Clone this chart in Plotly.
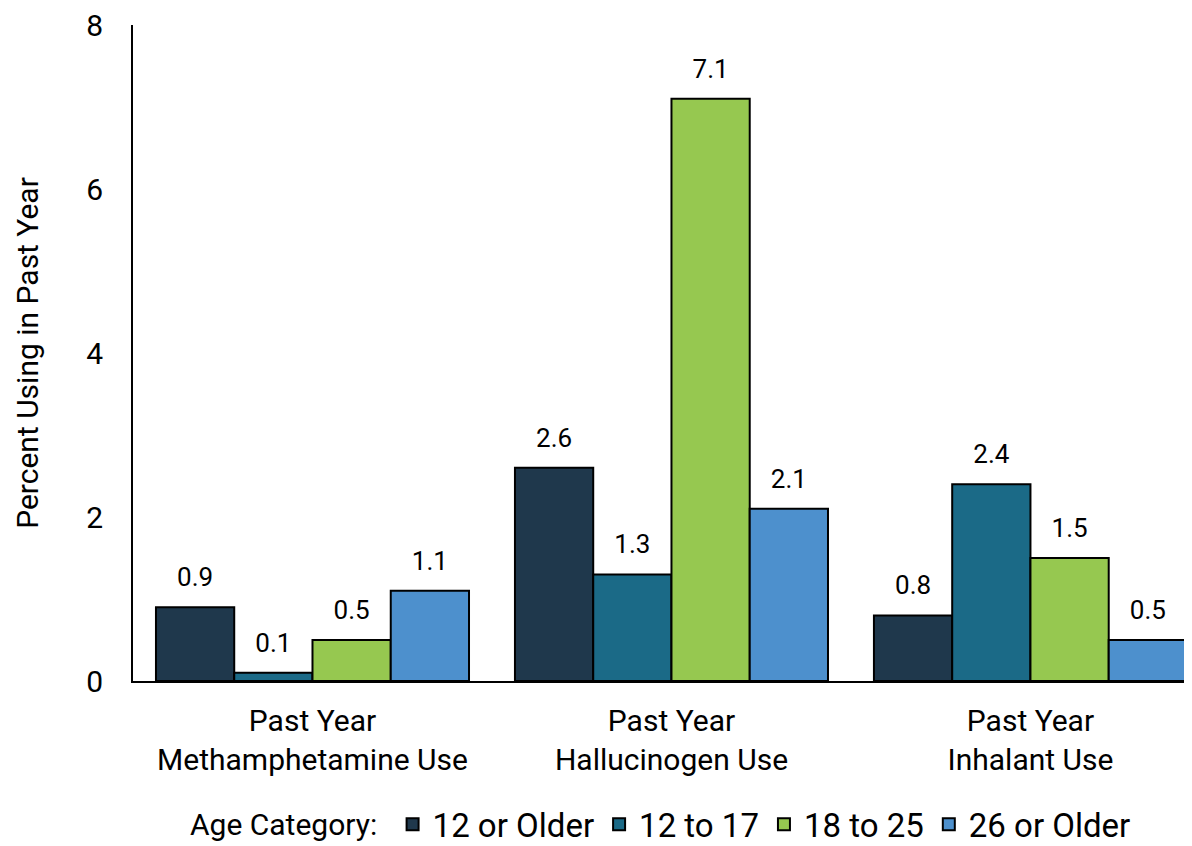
import plotly.graph_objects as go

categories = ["Past Year<br>Methamphetamine Use", "Past Year<br>Hallucinogen Use", "Past Year<br>Inhalant Use"]
series_names = ["12 or Older", "12 to 17", "18 to 25", "26 or Older"]
v_12_older = [0.9, 2.6, 0.8]
v_12_17 = [0.1, 1.3, 2.4]
v_18_25 = [0.5, 7.1, 1.5]
v_26_older = [1.1, 2.1, 0.5]
colors = ["#1f384c", "#1b6a87", "#96c850", "#4d90cd"]
y_ticks = [0, 2, 4, 6, 8]

FONT = "Roboto, sans-serif"
GAP = 0.128

fig = go.Figure()
all_vals = [v_12_older, v_12_17, v_18_25, v_26_older]
for i, (name, vals, col) in enumerate(zip(series_names, all_vals, colors)):
    fig.add_trace(go.Bar(
        x=categories, y=vals, name=name, offsetgroup=str(i),
        marker=dict(color=col, line=dict(color="black", width=2)),
    ))
for i, (name, vals) in enumerate(zip(series_names, all_vals)):
    fig.add_trace(go.Scatter(
        x=categories, y=vals, mode="markers+text", offsetgroup=str(i),
        text=[f"{v:.1f}" for v in vals], textposition="top center",
        textfont=dict(size=26, color="black", family=FONT),
        marker=dict(size=22, opacity=0), showlegend=False, hoverinfo="skip",
        cliponaxis=False,
    ))

fig.update_layout(
    width=1184, height=838,
    margin=dict(l=125, r=0, t=17, b=165, autoexpand=False),
    paper_bgcolor="white", plot_bgcolor="white",
    barmode="group", bargap=GAP, bargroupgap=0,
    scattermode="group", scattergap=GAP,
    font=dict(family=FONT, size=30, color="black"),
    showlegend=True,
    legend=dict(
        orientation="h", xref="container", yref="container",
        x=0.152, y=0.026, xanchor="left", yanchor="middle",
        title=dict(text="Age Category: ", side="left", font=dict(size=30)),
        font=dict(size=33), itemwidth=30, traceorder="normal",
    ),
    xaxis=dict(
        range=[-0.5, 2.45], showline=True, linecolor="black", linewidth=2,
        ticks="", tickfont=dict(size=30), showgrid=False, automargin=False,
        ticklabelstandoff=12, ticklabeloverflow="allow",
    ),
    yaxis=dict(
        range=[0, 8], tickvals=y_ticks, showline=True, linecolor="black", linewidth=2,
        ticks="", showgrid=False, zeroline=False, tickfont=dict(size=30),
        title=dict(text="Percent Using in Past Year", font=dict(size=30), standoff=39),
        ticklabelstandoff=22, automargin=False, ticklabeloverflow="allow",
    ),
)

fig.write_html("out.html")
